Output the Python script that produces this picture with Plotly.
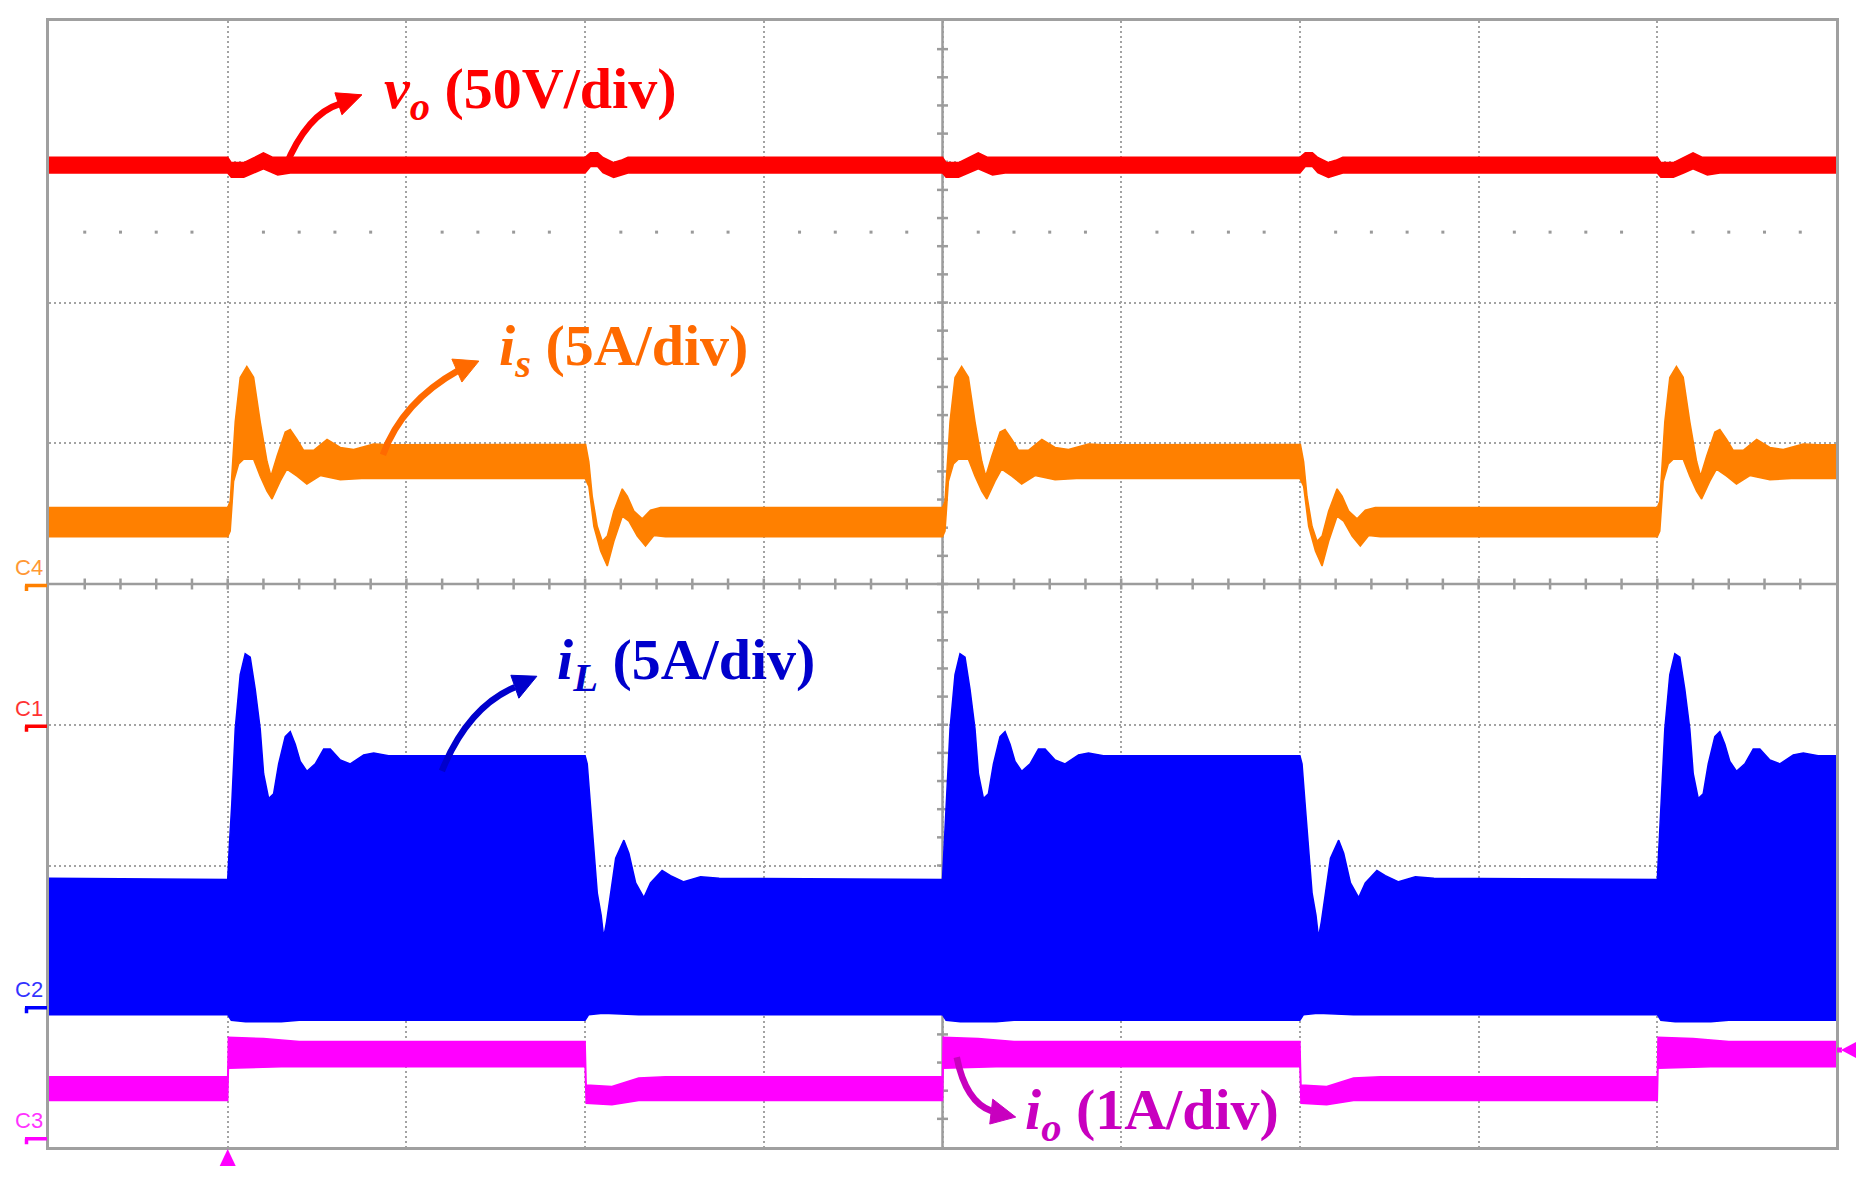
import plotly.graph_objects as go

# screen grid: 10 x 8 divisions, time axis in divisions
N_XDIV = 10
N_YDIV = 8

# scope channels: name, volts/amps per div, ground marker position (div)
CH_NAME = ["C1", "C2", "C3", "C4"]
CH_SCALE = [50, 5, 1, 5]
CH_OFFSET = [-1.0, -3.0, -3.93, 0.0]
CH_COLOR = ["#ff0000", "#0000ff", "#ff00ff", "#ff8000"]

# load steps (time, div)
STEP_UP = [1, 5, 9]
STEP_DOWN = [3, 7]

# vo (V) on C1 -- trace band [upper, lower]
VO_LIGHT = [201.6, 196.0]
VO_HEAVY = [201.6, 196.0]
VO_RISE_UPPER = [(0.0, 201.6), (0.02, 199.7), (0.09, 199.7), (0.15, 201.5), (0.2, 203.2), (0.25, 201.6), (0.35, 201.6)]
VO_RISE_LOWER = [(0.0, 196.0), (0.02, 194.5), (0.09, 194.5), (0.15, 196.1), (0.2, 197.5), (0.28, 195.3), (0.35, 196.0)]
VO_FALL_UPPER = [(0.0, 201.6), (0.03, 203.2), (0.07, 203.2), (0.1, 201.5), (0.16, 199.7), (0.2, 200.5), (0.24, 201.6)]
VO_FALL_LOWER = [(0.0, 196.0), (0.03, 198.3), (0.07, 198.3), (0.1, 196.1), (0.16, 194.4), (0.24, 196.0)]

# is (A) on C4
IS_LIGHT = [2.72, 1.68]
IS_HEAVY = [4.95, 3.75]
IS_RISE_UPPER = [(0.0, 2.72), (0.014, 2.94), (0.042, 5.76), (0.070, 7.34), (0.107, 7.73), (0.145, 7.34),
                 (0.182, 5.76), (0.220, 4.36), (0.242, 3.83), (0.276, 4.54), (0.322, 5.40), (0.350, 5.49),
                 (0.388, 5.14), (0.425, 4.75), (0.481, 4.75), (0.556, 5.14), (0.630, 4.85), (0.705, 4.78),
                 (0.817, 4.97), (0.9, 4.95)]
IS_RISE_LOWER = [(0.0, 1.68), (0.014, 1.88), (0.033, 3.65), (0.061, 4.26), (0.089, 4.43), (0.145, 4.43),
                 (0.182, 3.83), (0.220, 3.30), (0.248, 3.02), (0.294, 3.65), (0.331, 4.08), (0.388, 3.83),
                 (0.443, 3.55), (0.518, 3.85), (0.630, 3.70), (0.75, 3.75)]
IS_FALL_UPPER = [(0.0, 4.95), (0.003, 4.96), (0.021, 4.34), (0.040, 3.11), (0.068, 2.05), (0.096, 1.52),
                 (0.124, 1.70), (0.161, 2.59), (0.208, 3.38), (0.236, 3.12), (0.273, 2.59), (0.320, 2.32),
                 (0.366, 2.62), (0.422, 2.72), (0.5, 2.72)]
IS_FALL_LOWER = [(0.0, 3.75), (0.021, 3.47), (0.049, 2.05), (0.087, 1.17), (0.124, 0.64), (0.161, 1.52),
                 (0.208, 2.41), (0.245, 2.23), (0.292, 1.70), (0.338, 1.35), (0.385, 1.72), (0.45, 1.68)]

# iL (A) on C2 -- switching ripple fills the band
IL_LIGHT = [4.55, -0.3]
IL_HEAVY = [8.9, -0.5]
IL_RISE_UPPER = [(0.0, 4.5), (0.010, 5.79), (0.023, 7.20), (0.042, 9.85), (0.070, 11.78), (0.098, 12.52),
                 (0.126, 12.40), (0.154, 11.26), (0.182, 9.85), (0.201, 8.26), (0.229, 7.38), (0.257, 7.55),
                 (0.285, 8.61), (0.322, 9.58), (0.350, 9.76), (0.378, 9.31), (0.406, 8.70), (0.443, 8.35),
                 (0.490, 8.61), (0.537, 9.14), (0.574, 9.14), (0.630, 8.75), (0.686, 8.61), (0.761, 8.93),
                 (0.817, 9.0), (0.9, 8.9)]
IL_RISE_LOWER = [(0.0, -0.3), (0.02, -0.5), (0.1, -0.55), (0.3, -0.55), (0.4, -0.5)]
IL_FALL_UPPER = [(0.0, 8.9), (0.012, 8.61), (0.031, 7.03), (0.049, 5.44), (0.068, 4.03), (0.090, 3.23),
                 (0.104, 2.44), (0.120, 3.0), (0.143, 4.03), (0.171, 5.26), (0.217, 5.9), (0.245, 5.44),
                 (0.283, 4.38), (0.329, 3.86), (0.366, 4.38), (0.431, 4.82), (0.478, 4.64), (0.552, 4.42),
                 (0.646, 4.60), (0.75, 4.55)]
IL_FALL_LOWER = [(0.0, -0.5), (0.02, -0.3), (0.1, -0.25), (0.3, -0.3)]

# io (A) on C3
IO_LIGHT = [0.43, 0.26]
IO_HEAVY = [0.68, 0.50]
IO_RISE_UPPER = [(0.0, 0.43), (0.004, 0.71), (0.2, 0.70), (0.4, 0.68)]
IO_RISE_LOWER = [(0.0, 0.26), (0.004, 0.49), (0.3, 0.50)]
IO_FALL_UPPER = [(0.0, 0.68), (0.006, 0.37), (0.15, 0.36), (0.3, 0.42), (0.45, 0.43)]
IO_FALL_LOWER = [(0.0, 0.50), (0.006, 0.24), (0.15, 0.23), (0.3, 0.26)]

TRIG_LEVEL_IO = 0.62

# page geometry: the browser body adds an 8px margin around the figure
BODY = 8
W, H = 1870 - 2 * BODY, 1177 - 2 * BODY
PLOT_X0, PLOT_X1 = 49, 1836.5          # screen edges in page pixels
PLOT_Y0, PLOT_Y1 = 18, 1147
PX_XDIV = (PLOT_X1 - PLOT_X0) / N_XDIV
PX_YDIV = (PLOT_Y1 - PLOT_Y0) / N_YDIV

GRID = "#a3a3a3"
SERIF = "Liberation Serif"


def px_x(px):
    return (px - PLOT_X0) / PX_XDIV


def px_y(py):
    return N_YDIV / 2 - (py - PLOT_Y0) / PX_YDIV


def band(light, heavy, rise_up, rise_lo, fall_up, fall_lo):
    events = sorted([(t, True) for t in STEP_UP] + [(t, False) for t in STEP_DOWN])

    def edge(k, prof_rise, prof_fall):
        xs, ys = [0.0], [light[k]]
        for t, rising in events:
            for dt, v in (prof_rise if rising else prof_fall):
                if t + dt <= N_XDIV:
                    xs.append(t + dt)
                    ys.append(v)
        last = heavy if events[-1][1] else light
        xs.append(N_XDIV)
        ys.append(last[k])
        return xs, ys

    xu, yu = edge(0, rise_up, fall_up)
    xl, yl = edge(1, rise_lo, fall_lo)
    return xu + xl[::-1], yu + yl[::-1]


fig = go.Figure()

# centre cross with minor ticks
tx, ty = [0, N_XDIV, None, 5, 5, None], [0, 0, None, -4, 4, None]
hx = 5.5 / PX_YDIV
hy = 5.5 / PX_XDIV
for k in range(1, N_XDIV * 5):
    tx += [k * 0.2, k * 0.2, None]
    ty += [-hx, hx, None]
for k in range(1, N_YDIV * 5):
    tx += [5 - hy, 5 + hy, None]
    ty += [-4 + k * 0.2, -4 + k * 0.2, None]
fig.add_trace(go.Scatter(x=tx, y=ty, mode="lines", line=dict(color="#9c9c9c", width=2.5),
                         hoverinfo="skip", showlegend=False))

# sparse dot row
dots = [k * 0.2 for k in range(1, N_XDIV * 5) if k % 5]
fig.add_trace(go.Scatter(x=dots, y=[2.5] * len(dots), mode="markers",
                         marker=dict(color="#9a9a9a", size=3, symbol="square"),
                         hoverinfo="skip", showlegend=False))

channels = [
    ("y2", CH_COLOR[0], VO_LIGHT, VO_HEAVY, VO_RISE_UPPER, VO_RISE_LOWER, VO_FALL_UPPER, VO_FALL_LOWER),
    ("y5", CH_COLOR[3], IS_LIGHT, IS_HEAVY, IS_RISE_UPPER, IS_RISE_LOWER, IS_FALL_UPPER, IS_FALL_LOWER),
    ("y3", CH_COLOR[1], IL_LIGHT, IL_HEAVY, IL_RISE_UPPER, IL_RISE_LOWER, IL_FALL_UPPER, IL_FALL_LOWER),
    ("y4", CH_COLOR[2], IO_LIGHT, IO_HEAVY, IO_RISE_UPPER, IO_RISE_LOWER, IO_FALL_UPPER, IO_FALL_LOWER),
]
for axis, color, light, heavy, ru, rl, fu, fl in channels:
    bx, by = band(light, heavy, ru, rl, fu, fl)
    fig.add_trace(go.Scatter(x=bx, y=by, yaxis=axis, mode="lines", fill="toself",
                             fillcolor=color, line=dict(color=color, width=1.5),
                             hoverinfo="skip", showlegend=False))

axis_style = dict(showgrid=True, gridcolor=GRID, gridwidth=2, griddash="2px,3px",
                  showticklabels=False, ticks="", zeroline=False,
                  showline=True, mirror=True, linecolor="#a0a0a0", linewidth=3)
layout_axes = dict(
    xaxis=dict(range=[0, N_XDIV], dtick=1, tick0=0, **axis_style),
    yaxis=dict(range=[-N_YDIV / 2, N_YDIV / 2], dtick=1, tick0=0, **axis_style),
)
for i in range(4):
    lo = (-N_YDIV / 2 - CH_OFFSET[i]) * CH_SCALE[i]
    hi = (N_YDIV / 2 - CH_OFFSET[i]) * CH_SCALE[i]
    layout_axes[f"yaxis{i + 2}"] = dict(overlaying="y", range=[lo, hi], visible=False)

shapes = []
annotations = []

# channel ground markers on the left edge
for i in range(4):
    yr = f"y{i + 2}"
    shapes.append(dict(type="path", xref="paper", yref=yr, xsizemode="pixel", ysizemode="pixel",
                       xanchor=0, yanchor=0, path="M -24,-1.5 L -2,-1.5 M -22.5,-1.5 L -22.5,-7",
                       line=dict(color=CH_COLOR[i], width=3.5)))
    annotations.append(dict(text=CH_NAME[i], xref="paper", yref=yr, x=0, y=0, xshift=-4,
                            xanchor="right", yanchor="bottom", yshift=2, showarrow=False,
                            font=dict(family="Liberation Sans", size=22, color=CH_COLOR[i]),
                            opacity=0.8))

# trigger markers
shapes.append(dict(type="path", xref="x", yref="paper", xsizemode="pixel", ysizemode="pixel",
                   xanchor=STEP_UP[0], yanchor=0, path="M 0,-2 L -8,-19 L 8,-19 Z",
                   fillcolor=CH_COLOR[2], line=dict(width=0)))
shapes.append(dict(type="path", xref="paper", yref="y4", xsizemode="pixel", ysizemode="pixel",
                   xanchor=1, yanchor=TRIG_LEVEL_IO,
                   path="M 1,-2.5 L 6,-2.5 L 6,2.5 L 1,2.5 Z M 5,0 L 20,8 L 20,-8 Z",
                   fillcolor=CH_COLOR[2], line=dict(width=0)))

# labels with curved arrows (positions in page pixels)
LABELS = [
    ("<i>v</i><sub><i>o</i></sub> (50V/div)", "#ff0000", 382, 90,
     (285, 165), (307, 111), (340, 101), (362, 92), (335, 90), (342, 112)),
    ("<i>i</i><sub><i>s</i></sub> (5A/div)", "#ff6a00", 497, 347,
     (383, 453), (402, 400), (459, 368), (479, 359), (452, 357), (462, 380)),
    ("<i>i</i><sub><i>L</i></sub> (5A/div)", "#0000cc", 555, 662,
     (442, 770), (468, 706), (515, 686), (537, 675), (511, 674), (519, 697)),
    ("<i>i</i><sub><i>o</i></sub> (1A/div)", "#c800bf", 1023, 1113,
     (957, 1057), (966, 1102), (992, 1111), (1016, 1117), (993, 1099), (990, 1124)),
]
for text, color, lx, ly, p0, c, p2, tip, b1, b2 in LABELS:
    annotations.append(dict(text=text, x=px_x(lx), y=px_y(ly), xref="x", yref="y",
                            xanchor="left", yanchor="middle", showarrow=False,
                            font=dict(family=SERIF, size=58, color=color, weight="bold")))
    shapes.append(dict(type="path", xref="x", yref="y",
                       path=f"M {px_x(p0[0])},{px_y(p0[1])} Q {px_x(c[0])},{px_y(c[1])} "
                            f"{px_x(p2[0])},{px_y(p2[1])}",
                       line=dict(color=color, width=6.5)))
    shapes.append(dict(type="path", xref="x", yref="y",
                       path=f"M {px_x(tip[0])},{px_y(tip[1])} L {px_x(b1[0])},{px_y(b1[1])} "
                            f"L {px_x(b2[0])},{px_y(b2[1])} Z",
                       fillcolor=color, line=dict(color=color, width=1)))

fig.update_layout(
    width=W,
    height=H,
    margin=dict(l=PLOT_X0 - BODY, r=W + BODY - PLOT_X1, t=PLOT_Y0 - BODY, b=H + BODY - PLOT_Y1, pad=0),
    paper_bgcolor="white",
    plot_bgcolor="white",
    showlegend=False,
    shapes=shapes,
    annotations=annotations,
    **layout_axes,
)

fig.write_html("out.html")
